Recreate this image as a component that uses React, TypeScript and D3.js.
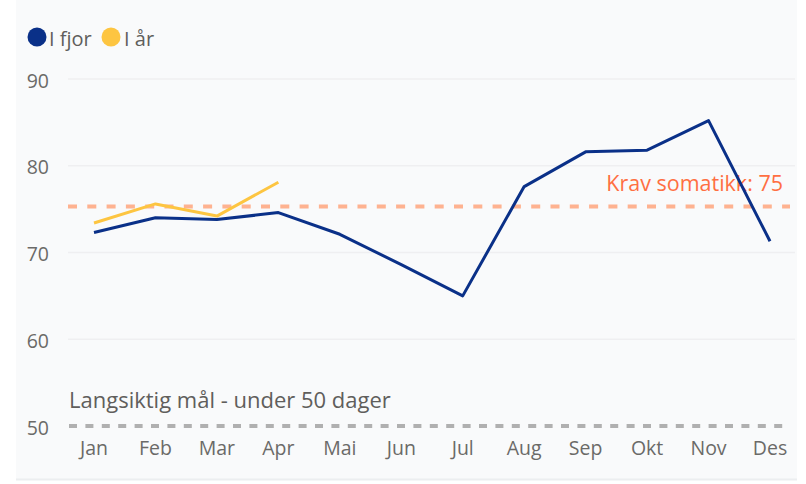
import React, { useRef, useEffect } from "react";
import * as d3 from "d3";

const months = ["Jan", "Feb", "Mar", "Apr", "Mai", "Jun", "Jul", "Aug", "Sep", "Okt", "Nov", "Des"];
const lastYear = [72.3, 74.0, 73.8, 74.6, 72.1, 68.6, 65.0, 77.6, 81.6, 81.8, 85.2, 71.3];
const thisYear = [73.4, 75.6, 74.2, 78.1];
const yTicks = [50, 60, 70, 80, 90];
const kravValue = 75.3;
const kravLabel = "Krav somatikk: 75";
const goalValue = 50;
const goalLabel = "Langsiktig mål - under 50 dager";

const FONT = "'Open Sans', 'Noto Sans', sans-serif";

export default function App() {
  const ref = useRef<SVGSVGElement>(null);

  useEffect(() => {
    const width = 806, height = 484;
    const svg = d3.select(ref.current);
    svg.selectAll("*").remove();
    svg.attr("width", width).attr("height", height);

    // panel background
    svg.append("rect").attr("x", 16).attr("y", 0).attr("width", 781).attr("height", 479)
      .attr("fill", "#f9fafb");
    svg.append("line").attr("x1", 16).attr("x2", 797).attr("y1", 479.5).attr("y2", 479.5)
      .attr("stroke", "#eceef0").attr("stroke-width", 2);

    const x = d3.scalePoint<string>().domain(months).range([94, 770]);
    const y = d3.scaleLinear().domain([50, 90]).range([426, 79]);

    // grid
    svg.append("g").selectAll("line").data(yTicks.filter(t => t !== goalValue)).enter()
      .append("line")
      .attr("x1", 68).attr("x2", 795)
      .attr("y1", d => y(d)).attr("y2", d => y(d))
      .attr("stroke", "#efeff1").attr("stroke-width", 1.5);

    // y tick labels
    svg.append("g").selectAll("text").data(yTicks).enter()
      .append("text")
      .attr("x", 49).attr("y", d => y(d) + 1)
      .attr("text-anchor", "end").attr("dominant-baseline", "central")
      .style("font-family", FONT).style("font-size", "19.5px").style("fill", "#6b6a68")
      .text(d => d);

    // x labels
    svg.append("g").selectAll("text").data(months).enter()
      .append("text")
      .attr("x", d => x(d) as number).attr("y", 455)
      .attr("text-anchor", "middle")
      .style("font-family", FONT).style("font-size", "19.5px").style("fill", "#6b6a68")
      .text(d => d);

    // goal line
    svg.append("line").attr("x1", 69).attr("x2", 790)
      .attr("y1", y(goalValue)).attr("y2", y(goalValue))
      .attr("stroke", "#b0b0b0").attr("stroke-width", 4).attr("stroke-dasharray", "8,8.4");
    svg.append("text").attr("x", 69).attr("y", 408)
      .style("font-family", FONT).style("font-size", "22px").style("fill", "#605e5c")
      .text(goalLabel);

    // krav line
    svg.append("line").attr("x1", 68).attr("x2", 790)
      .attr("y1", y(kravValue)).attr("y2", y(kravValue))
      .attr("stroke", "#ffa47c").attr("stroke-opacity", 0.85).attr("stroke-width", 4)
      .attr("stroke-dasharray", "9,10.3");
    svg.append("text").attr("x", 783).attr("y", 191).attr("text-anchor", "end")
      .style("font-family", FONT).style("font-size", "21.5px").style("fill", "#ff6f42")
      .text(kravLabel);

    const line = d3.line<number>()
      .x((d, i) => x(months[i]) as number)
      .y(d => y(d));

    svg.append("path").datum(thisYear).attr("d", line)
      .attr("fill", "none").attr("stroke", "#fdc541").attr("stroke-width", 3)
      .attr("stroke-linejoin", "round");
    svg.append("path").datum(lastYear).attr("d", line)
      .attr("fill", "none").attr("stroke", "#0a3088").attr("stroke-width", 3)
      .attr("stroke-linejoin", "round");

    // legend
    const legend = [
      { label: "I fjor", color: "#0a3088", cx: 37, tx: 49 },
      { label: "I år", color: "#fdc541", cx: 111, tx: 124 },
    ];
    const lg = svg.append("g");
    legend.forEach(l => {
      lg.append("circle").attr("cx", l.cx).attr("cy", 37).attr("r", 9.5).attr("fill", l.color);
      lg.append("text").attr("x", l.tx).attr("y", 38).attr("dominant-baseline", "central")
        .style("font-family", FONT).style("font-size", "20px").style("fill", "#605e5c")
        .text(l.label);
    });
  }, []);

  return (
    <svg ref={ref} style={{ position: "absolute", left: 0, top: 0, display: "block" }}></svg>
  );
}
